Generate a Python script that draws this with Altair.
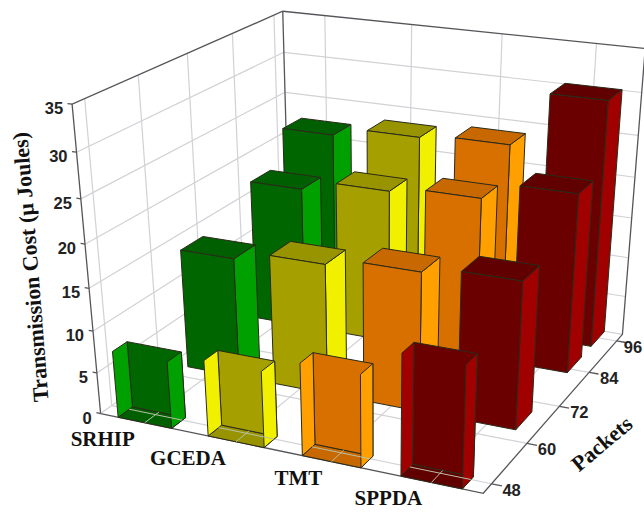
import altair as alt
import numpy as np
import pandas as pd

# Chart values
methods = ["SRHIP", "GCEDA", "TMT", "SPPDA"]
packet_ticks = [48, 60, 72, 84, 96]
cost_ticks = [0, 5, 10, 15, 20, 25, 30, 35]
row_packets = [48, 66, 85.6, 95.6]
cost_by_row = [
    [8.0, 9.0, 10.8, 14.0],
    [14.6, 15.7, 16.6, 17.4],
    [17.7, 19.0, 19.7, 21.8],
    [22.0, 23.1, 23.6, 30.1],
]
front_colors = ["#006600", "#a5a000", "#d87000", "#6b0000"]
side_colors = ["#00a000", "#f0f000", "#ffa000", "#a00000"]
top_colors = ["#005f00", "#989400", "#c86800", "#600000"]

# Perspective camera, solved from where the plot box corners fall on the canvas
box_model = [(0, 0, 0), (1, 0, 0), (1, 1, 0), (0, 1, 0), (0, 0, 1), (1, 1, 1), (0, 1, 1)]
box_screen = [(100, 413), (484, 493), (622, 335), (290.5, 279), (72, 105), (645, 48), (283, 11)]

# Horizontal nudge of each category label from its tick
method_label_dx = [-42, -48, -33, -43]


def solve_camera():
    rows = []
    for (a, b, c), (x, y) in zip(box_model, box_screen):
        rows.append([a, b, c, 1, 0, 0, 0, 0, -x * a, -x * b, -x * c, -x])
        rows.append([0, 0, 0, 0, a, b, c, 1, -y * a, -y * b, -y * c, -y])
    return np.linalg.svd(np.array(rows, float))[2][-1].reshape(3, 4)


CAMERA = solve_camera()


def project(u, v, w):
    p = CAMERA @ np.array([u, v, w, 1.0])
    return p[0] / p[2], p[1] / p[2]


def u_of(i):
    return (i + 0.5) / 4


def v_of(packets):
    return 0.05 + (packets - 48) / 48 * 0.9


def w_of(cost):
    return cost / 35


def polyline(name, points, fill=None):
    out = []
    for seq, (u, v, w) in enumerate(points):
        x, y = project(u, v, w)
        out.append({"face": name, "seq": seq, "px": x, "py": y, "fill": fill})
    return out


# Wall and floor grid
grid = []
for c in cost_ticks[1:-1]:
    grid += polyline(f"wl{c}", [(0, 1, w_of(c)), (0, 0, w_of(c))])
    grid += polyline(f"wb{c}", [(0, 1, w_of(c)), (1, 1, w_of(c))])
for p in packet_ticks:
    grid += polyline(f"lv{p}", [(0, v_of(p), 0), (0, v_of(p), 1)])
    grid += polyline(f"fv{p}", [(0, v_of(p), 0), (1, v_of(p), 0)])
for i in range(4):
    grid += polyline(f"bv{i}", [(u_of(i), 1, 0), (u_of(i), 1, 1)])
    grid += polyline(f"fu{i}", [(u_of(i), 0, 0), (u_of(i), 1, 0)])
grid += polyline("ad", [(0, 0, 0), (0, 1, 0)])
grid += polyline("dc", [(0, 1, 0), (1, 1, 0)])

# Box frame and axis ticks
frame = []
frame += polyline("top", [(0, 0, 0), (0, 0, 1), (0, 1, 1), (1, 1, 1), (1, 1, 0), (1, 0, 0), (0, 0, 0)])
frame += polyline("back", [(0, 1, 0), (0, 1, 1)])
for c in cost_ticks:
    frame += polyline(f"tc{c}", [(0, 0, w_of(c)), (-0.012, 0, w_of(c))])
for p in packet_ticks:
    frame += polyline(f"tp{p}", [(1, v_of(p), 0), (1.025, v_of(p), 0)])

# Bars, painted from the far corner forward
HALF_U = 0.075
HALF_V = 0.055
FRONT_DEPTH = 0.065
faces = []
floor_marks = []
for r in range(3, -1, -1):
    vc = v_of(row_packets[r])
    v0, v1 = vc - HALF_V, vc + HALF_V
    if r == 0:
        v0, v1 = 0, FRONT_DEPTH
    for i in range(4):
        u0, u1 = u_of(i) - HALF_U, u_of(i) + HALF_U
        h = w_of(cost_by_row[r][i])
        key = f"{r}-{i}"
        if r == 0:
            # The front row is cut open by the box edge, so its inside shows
            faces += polyline(key + "f", [(u0, v0, 0), (u1, v0, 0), (u1, v1, 0), (u0, v1, 0), (u0, v0, 0)], top_colors[i])
            faces += polyline(key + "b", [(u0, v1, 0), (u1, v1, 0), (u1, v1, h), (u0, v1, h), (u0, v1, 0)], front_colors[i])
            faces += polyline(key + "l", [(u0, v0, 0), (u0, v1, 0), (u0, v1, h), (u0, v0, h), (u0, v0, 0)], side_colors[i])
            faces += polyline(key + "r", [(u1, v0, 0), (u1, v1, 0), (u1, v1, h), (u1, v0, h), (u1, v0, 0)], side_colors[i])
            floor_marks += polyline(key + "gv", [(u0, vc, 0), (u1, vc, 0)])
            floor_marks += polyline(key + "gu", [(u_of(i), v0, 0), (u_of(i), v1, 0)])
        else:
            faces += polyline(key + "r", [(u1, v0, 0), (u1, v1, 0), (u1, v1, h), (u1, v0, h), (u1, v0, 0)], side_colors[i])
            faces += polyline(key + "t", [(u0, v0, h), (u1, v0, h), (u1, v1, h), (u0, v1, h), (u0, v0, h)], top_colors[i])
            faces += polyline(key + "n", [(u0, v0, 0), (u1, v0, 0), (u1, v0, h), (u0, v0, h), (u0, v0, 0)], front_colors[i])

# Text positions follow the projected ticks; the last packet label stays on the canvas
cost_labels = [{"t": str(c), "px": project(0, 0, w_of(c))[0] - 9, "py": project(0, 0, w_of(c))[1] + 5} for c in cost_ticks]
packet_labels = [{"t": str(p), "px": min(project(1, v_of(p), 0)[0] + 20, 633), "py": project(1, v_of(p), 0)[1] + 7} for p in packet_ticks]
method_labels = [
    {"t": m, "px": project(u_of(i), 0, 0)[0] + method_label_dx[i], "py": project(u_of(i), 0, 0)[1] + 17}
    for i, m in enumerate(methods)
]

X = alt.X("px:Q", scale=alt.Scale(domain=[0, 644]), axis=None)
Y = alt.Y("py:Q", scale=alt.Scale(domain=[512, 0]), axis=None)


def lines(rows, color, width):
    return alt.Chart(pd.DataFrame(rows)).mark_line(color=color, strokeWidth=width).encode(
        x=X, y=Y, detail="face:N", order="seq:Q"
    )


bars = alt.Chart(pd.DataFrame(faces)).mark_line(stroke="#2a2a1a", strokeWidth=1, strokeJoin="round").encode(
    x=X, y=Y, detail="face:N", order="seq:Q", fill=alt.Fill("fill:N", scale=None)
)


def texts(rows, **kw):
    return alt.Chart(pd.DataFrame(rows)).mark_text(**kw).encode(x=X, y=Y, text="t:N")


sans = dict(font="Liberation Sans", fontWeight="bold", fontSize=16.5, color="#222222")
serif = dict(font="Liberation Serif", fontWeight="bold", color="#111111")

chart = alt.layer(
    lines(grid, "#d2d2d6", 1.2),
    lines(frame, "#55555a", 1.3),
    bars,
    lines(floor_marks, "#b8c0a8", 1),
    texts(cost_labels, align="right", **sans),
    texts(packet_labels, align="center", **sans),
    texts(method_labels, align="center", fontSize=21, **serif),
    texts([{"t": "Transmission Cost (\u03bc Joules)", "px": 31, "py": 267}], angle=265.5, align="center", fontSize=22, **serif),
    texts([{"t": "Packets", "px": 602, "py": 444}], angle=320, align="center", fontSize=22, **serif),
).properties(width=644, height=512, padding=0, autosize=alt.AutoSizeParams(type="none")).configure_view(stroke=None)

chart.save("out.html", embed_options={"renderer": "svg", "actions": False})
